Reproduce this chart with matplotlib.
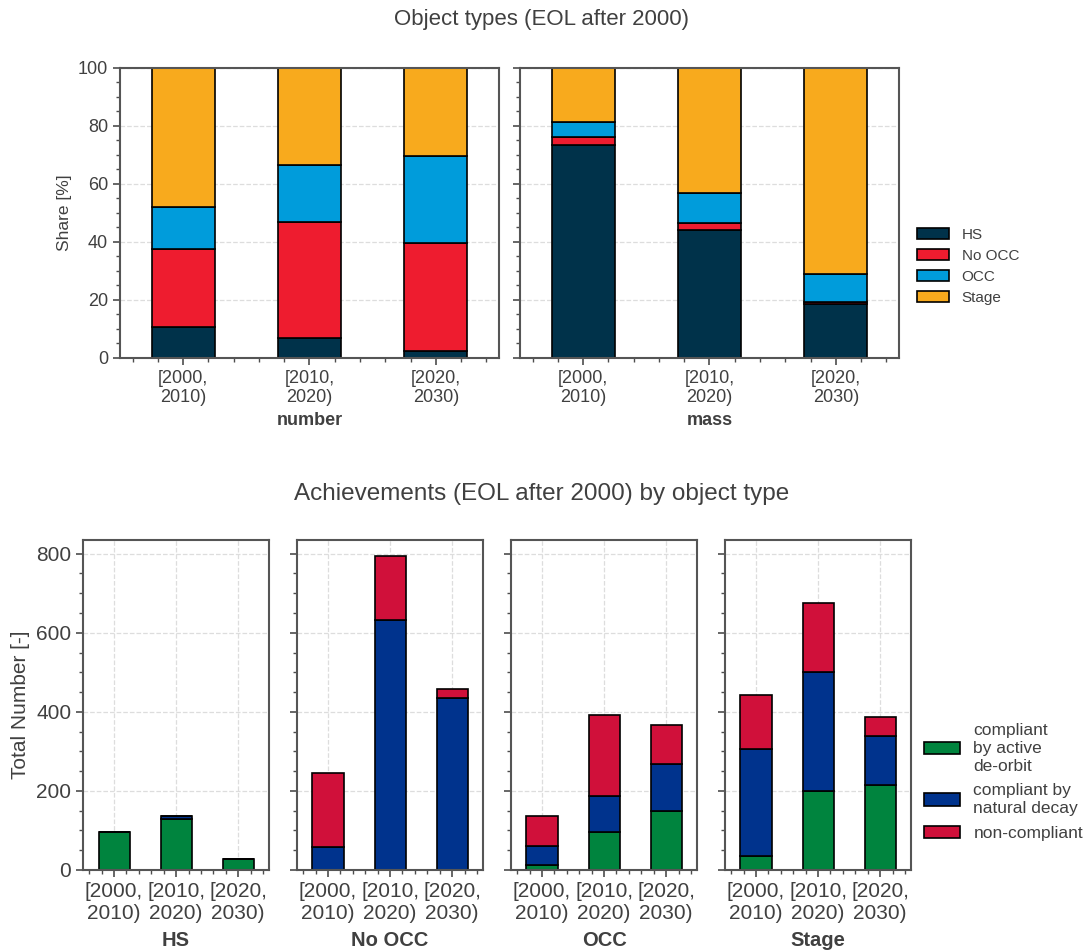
import numpy as np
import matplotlib
matplotlib.use('Agg')
import matplotlib.pyplot as plt
from matplotlib.ticker import AutoMinorLocator

# ---- data ----
periods = ['[2000,\n2010)', '[2010,\n2020)', '[2020,\n2030)']
obj_types = ['HS', 'No OCC', 'OCC', 'Stage']

# share [%] by number
share_number = {
    'HS':     [10.6, 6.8, 2.4],
    'No OCC': [26.8, 40.1, 37.2],
    'OCC':    [14.7, 19.6, 29.9],
    'Stage':  [47.9, 33.5, 30.5],
}
# share [%] by mass
share_mass = {
    'HS':     [73.4, 44.1, 18.7],
    'No OCC': [2.8, 2.4, 0.7],
    'OCC':    [5.0, 10.4, 9.5],
    'Stage':  [18.8, 43.1, 71.1],
}

achieve_labels = ['compliant\nby active\nde-orbit', 'compliant by\nnatural decay', 'non-compliant']
# total numbers per object type: [active de-orbit, natural decay, non-compliant]
active_deorbit = {'HS': [95, 128, 28], 'No OCC': [0, 0, 0], 'OCC': [13, 95, 148], 'Stage': [36, 201, 216]}
natural_decay = {'HS': [0, 8, 1], 'No OCC': [58, 633, 436], 'OCC': [48, 91, 121], 'Stage': [270, 301, 123]}
non_compliant = {'HS': [0, 0, 0], 'No OCC': [188, 162, 21], 'OCC': [75, 205, 98], 'Stage': [136, 174, 47]}

type_colors = ['#00324A', '#EE1C2F', '#009CDB', '#F8AA1D']
ach_colors = ['#00843E', '#00338D', '#D0103A']

txt = '#404040'
plt.rcParams['font.family'] = ['Liberation Sans', 'DejaVu Sans']
plt.rcParams['text.color'] = txt
plt.rcParams['axes.labelcolor'] = txt
plt.rcParams['xtick.color'] = '#4d4d4d'
plt.rcParams['ytick.color'] = '#4d4d4d'
plt.rcParams['xtick.labelcolor'] = txt
plt.rcParams['ytick.labelcolor'] = txt


def style_axes(ax, fs):
    for s in ax.spines.values():
        s.set_color('#555555')
        s.set_linewidth(1.5)
    ax.set_axisbelow(True)
    ax.grid(True, ls='--', color='#dddddd', lw=0.9)
    ax.xaxis.set_minor_locator(AutoMinorLocator())
    ax.yaxis.set_minor_locator(AutoMinorLocator())
    ax.tick_params(which='major', length=5, width=1.2, labelsize=fs)
    ax.tick_params(which='minor', length=3, width=1.0)


fig = plt.figure(figsize=(10.89, 9.51), dpi=100)
x = np.arange(len(periods))
w = 0.5

# ---- top: object type shares ----
top_axes = [fig.add_axes([0.1102, 0.6236, 0.348, 0.305]),
            fig.add_axes([0.4775, 0.6236, 0.348, 0.305])]
for ax, data, name in zip(top_axes, [share_number, share_mass], ['number', 'mass']):
    bottom = np.zeros(len(periods))
    for t, c in zip(obj_types, type_colors):
        ax.bar(x, data[t], w, bottom=bottom, color=c, edgecolor='black', lw=1.2, label=t)
        bottom += np.array(data[t])
    ax.set_xlim(-0.5, 2.5)
    ax.set_ylim(0, 100)
    ax.set_xticks(x)
    ax.set_xticklabels(periods)
    style_axes(ax, 13)
    ax.set_xlabel(name, fontsize=13, fontweight='bold')
top_axes[0].set_ylabel('Share [%]', fontsize=12.5)
top_axes[1].tick_params(labelleft=False)
h, l = top_axes[0].get_legend_handles_labels()
fig.legend(h, l, loc='center left', bbox_to_anchor=(0.829, 0.72), frameon=False,
           fontsize=11, handlelength=2.15, handleheight=0.8, handletextpad=0.8, labelspacing=0.45)
fig.text(0.497, 0.979, 'Object types (EOL after 2000)', ha='center', va='center', fontsize=16)

# ---- bottom: achievements per object type ----
lefts = [0.0762, 0.2727, 0.4692, 0.6657]
bot_axes = []
for i, t in enumerate(obj_types):
    ax = fig.add_axes([lefts[i], 0.0852, 0.171, 0.347],
                      sharey=bot_axes[0] if bot_axes else None)
    segs = [active_deorbit[t], natural_decay[t], non_compliant[t]]
    bottom = np.zeros(len(periods))
    for s, c, lab in zip(segs, ach_colors, achieve_labels):
        ax.bar(x, s, w, bottom=bottom, color=c, edgecolor='black', lw=1.2, label=lab)
        bottom += np.array(s)
    ax.set_xlim(-0.5, 2.5)
    ax.set_xticks(x)
    ax.set_xticklabels(periods)
    style_axes(ax, 15)
    ax.set_xlabel(t, fontsize=14.5, fontweight='bold', labelpad=6)
    if i > 0:
        ax.tick_params(labelleft=False)
    bot_axes.append(ax)
bot_axes[0].set_ylabel('Total Number [-]', fontsize=15)
h, l = bot_axes[0].get_legend_handles_labels()
leg = fig.legend(h, l, loc='center left', bbox_to_anchor=(0.834, 0.178), frameon=False,
                 fontsize=12.5, handlelength=2.1, handleheight=0.7, handletextpad=0.75, labelspacing=0.55)
for tx in leg.get_texts():
    tx.set_linespacing(1.25)
fig.text(0.497, 0.481, 'Achievements (EOL after 2000) by object type', ha='center', va='center', fontsize=17.5)

fig.savefig('out.png', dpi=100)
